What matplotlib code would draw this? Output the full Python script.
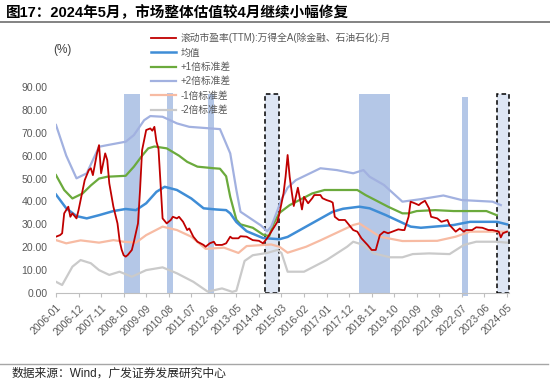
import matplotlib
matplotlib.use('Agg')
from matplotlib import pyplot as plt
from matplotlib.lines import Line2D

plt.rcParams['font.family'] = ['Liberation Sans', 'Noto Sans CJK SC']
plt.rcParams['axes.unicode_minus'] = False

# ---- data ----
tick_labels = ['2006-01', '2006-12', '2007-11', '2008-10', '2009-09', '2010-08', '2011-07',
               '2012-06', '2013-05', '2014-04', '2015-03', '2016-02', '2017-01', '2017-12',
               '2018-11', '2019-10', '2020-09', '2021-08', '2022-07', '2023-06', '2024-05']

pe_dates = ['2006-01', '2006-03', '2006-04', '2006-05', '2006-07', '2006-08', '2006-09', '2006-11',
            '2006-12', '2007-02', '2007-03', '2007-05', '2007-06', '2007-07', '2007-09', '2007-10',
            '2007-11', '2007-12', '2008-01', '2008-02', '2008-03', '2008-05', '2008-07', '2008-08',
            '2008-09', '2008-10', '2008-11', '2008-12', '2009-02', '2009-03', '2009-05', '2009-06',
            '2009-07', '2009-09', '2009-11', '2009-12', '2010-01', '2010-02', '2010-03', '2010-04',
            '2010-05', '2010-07', '2010-09', '2010-10', '2010-12', '2011-01', '2011-03', '2011-05',
            '2011-06', '2011-08', '2011-10', '2012-01', '2012-02', '2012-04', '2012-06', '2012-07',
            '2012-10', '2012-12', '2013-02', '2013-03', '2013-06', '2013-07', '2013-10', '2014-01',
            '2014-04', '2014-06', '2014-08', '2014-10', '2015-01', '2015-02', '2015-04', '2015-05',
            '2015-06', '2015-07', '2015-08', '2015-09', '2015-10', '2015-11', '2016-01', '2016-02',
            '2016-04', '2016-06', '2016-07', '2016-10', '2016-11', '2017-01', '2017-03', '2017-04',
            '2017-05', '2017-07', '2017-10', '2017-12', '2018-02', '2018-04', '2018-06', '2018-09',
            '2018-11', '2019-01', '2019-03', '2019-05', '2019-07', '2019-09', '2019-12', '2020-02',
            '2020-03', '2020-05', '2020-06', '2020-08', '2020-10', '2020-11', '2021-01', '2021-03',
            '2021-04', '2021-07', '2021-09', '2021-12', '2022-01', '2022-04', '2022-06', '2022-08',
            '2022-09', '2022-12', '2023-02', '2023-05', '2023-08', '2023-10', '2024-01', '2024-02',
            '2024-03', '2024-05']
pe_vals = [24.6, 25.3, 26.1, 34.8, 37.7, 33.3, 34.8, 32.6,
           36.2, 45.0, 49.3, 53.7, 54.5, 51.5, 61.0, 64.6,
           52.3, 56.6, 61.0, 58.1, 47.9, 37.7, 30.4, 23.1,
           19.0, 16.5, 15.9, 16.6, 18.8, 22.4, 30.4, 45.0,
           62.4, 71.2, 71.9, 70.9, 72.6, 66.1, 63.0, 48.0,
           32.6, 30.4, 31.9, 33.3, 32.6, 33.3, 31.1, 27.5,
           28.2, 24.6, 22.4, 21.0, 20.2, 21.7, 22.4, 21.0,
           21.0, 21.7, 24.6, 23.9, 23.9, 24.8, 24.6, 23.1,
           22.8, 21.7, 23.9, 26.8, 31.1, 34.8, 43.5, 50.8,
           60.3, 50.8, 44.2, 38.0, 42.0, 46.0, 36.5, 42.0,
           39.2, 41.4, 42.8, 42.8, 41.4, 40.6, 40.0, 39.5,
           33.3, 31.9, 31.9, 29.7, 27.5, 26.8, 23.9, 21.0,
           18.8, 18.8, 25.3, 26.8, 26.1, 26.8, 27.8, 27.5,
           27.5, 33.3, 39.9, 39.2, 38.4, 39.2, 40.3, 37.0,
           33.3, 32.6, 31.1, 31.9, 29.7, 26.8, 28.2, 26.8,
           27.5, 27.5, 28.7, 28.5, 27.5, 27.5, 26.8, 24.3,
           26.1, 26.8]

mean_dates = ['2006-01', '2006-06', '2006-11', '2007-04', '2007-10', '2008-05', '2008-11', '2009-04',
              '2009-09', '2010-02', '2010-06', '2010-12', '2011-07', '2012-01', '2012-07', '2012-12',
              '2013-02', '2013-05', '2013-10', '2014-06', '2015-02', '2015-06', '2015-11', '2016-06',
              '2017-04', '2017-09', '2018-05', '2018-10', '2019-06', '2020-06', '2020-11', '2022-03',
              '2022-11', '2023-12', '2024-05']
mean_vals = [43.0, 37.0, 33.6, 32.6, 34.0, 35.8, 36.7, 36.2,
             39.2, 44.2, 46.4, 45.0, 41.3, 37.0, 36.5, 36.2,
             34.8, 31.0, 27.0, 24.0, 23.5, 24.5, 27.0, 30.5,
             35.5, 36.8, 37.7, 37.0, 34.0, 29.0, 28.5, 29.7,
             31.1, 31.1, 30.0]

p1_dates = ['2006-01', '2006-05', '2006-09', '2007-02', '2007-06', '2007-10', '2008-02', '2008-11',
            '2009-03', '2009-07', '2009-10', '2010-01', '2010-07', '2011-01', '2011-05', '2011-10',
            '2012-06', '2012-09', '2012-12', '2013-02', '2013-05', '2013-07', '2014-01', '2014-06',
            '2014-09', '2014-11', '2015-02', '2015-07', '2016-06', '2016-12', '2018-04', '2018-08',
            '2019-07', '2020-02', '2020-05', '2020-09', '2021-06', '2022-03', '2023-07', '2023-12']
p1_vals = [51.5, 45.0, 41.3, 43.5, 47.0, 50.0, 50.8, 51.2,
           55.2, 60.0, 63.2, 64.0, 63.2, 60.0, 57.3, 55.2,
           54.5, 54.3, 51.0, 42.0, 32.0, 30.0, 28.5, 25.5,
           24.8, 30.0, 35.0, 38.4, 43.5, 45.0, 45.0, 42.8,
           37.7, 34.8, 34.8, 35.8, 36.2, 35.8, 35.8, 34.0]

p2_dates = ['2006-01', '2006-06', '2006-11', '2007-04', '2007-10', '2008-02', '2008-11', '2009-03',
            '2009-08', '2009-11', '2010-05', '2010-12', '2011-06', '2012-09', '2013-02', '2013-05',
            '2013-07', '2013-12', '2014-05', '2014-08', '2014-10', '2015-01', '2015-03', '2015-06',
            '2015-10', '2016-10', '2017-06', '2018-02', '2018-07', '2018-10', '2019-05', '2020-02',
            '2020-11', '2021-10', '2022-07', '2023-10', '2024-02']
p2_vals = [73.4, 60.0, 50.1, 52.3, 63.9, 64.6, 66.1, 69.0,
           75.5, 77.3, 77.0, 74.1, 72.6, 71.6, 61.0, 45.0,
           35.5, 32.5, 29.5, 27.0, 29.0, 36.0, 41.0, 46.0,
           49.3, 54.5, 53.7, 52.3, 53.7, 50.8, 47.2, 39.9,
           41.0, 42.6, 40.6, 39.9, 38.4]

m1_dates = ['2006-01', '2006-06', '2007-01', '2007-10', '2008-05', '2008-10', '2009-04', '2009-09',
            '2010-05', '2010-12', '2011-07', '2012-02', '2012-11', '2013-06', '2013-10', '2014-10',
            '2015-02', '2015-06', '2016-03', '2016-10', '2018-02', '2018-05', '2018-10', '2019-03',
            '2020-02', '2021-07', '2022-04', '2022-11', '2024-05']
m1_vals = [23.1, 21.7, 23.0, 22.0, 23.1, 22.4, 22.0, 25.3,
           29.0, 27.5, 24.6, 19.3, 19.8, 17.5, 20.5, 21.2,
           20.2, 17.6, 20.2, 23.0, 29.7, 30.4, 27.5, 24.6,
           22.7, 22.8, 24.6, 26.8, 26.8]

m2_dates = ['2006-01', '2006-04', '2006-09', '2007-01', '2007-06', '2007-10', '2008-03', '2008-08',
            '2009-02', '2009-09', '2010-05', '2010-12', '2011-08', '2012-03', '2012-10', '2013-03',
            '2013-05', '2013-09', '2014-01', '2014-08', '2015-01', '2015-03', '2015-06', '2016-02',
            '2017-01', '2017-11', '2018-02', '2018-07', '2018-12', '2019-08', '2020-02', '2020-07',
            '2021-03', '2022-01', '2022-08', '2023-02', '2023-12', '2024-05']
m2_vals = [4.9, 3.5, 11.5, 14.4, 13.0, 10.0, 7.9, 9.3,
           7.1, 10.0, 11.2, 8.6, 4.9, 0.6, 2.0, 0.5,
           1.0, 14.0, 16.5, 17.5, 18.8, 17.5, 9.3, 9.3,
           14.4, 20.2, 22.4, 21.0, 17.3, 15.6, 15.6, 17.0,
           17.3, 17.0, 21.0, 22.4, 22.4, 22.0]

shade_start = ['2008-10', '2010-07', '2012-03', '2018-05', '2022-07']
shade_end = ['2009-06', '2010-10', '2012-06', '2019-08', '2022-10']
shade_low = [0, 0, 0, 0, -1.5]
shade_top = [87, 87.5, 87, 87, 85.7]

box_start = ['2014-07', '2023-12']
box_end = ['2015-02', '2024-06']
box_top = [86.8, 86.8]

series_names = ['滚动市盈率(TTM):万得全A(除金融、石油石化):月', '均值', '+1倍标准差',
                '+2倍标准差', '-1倍标准差', '-2倍标准差']


def mi(d):
    # months since 2006-01
    y, m = d.split('-')
    return (int(y) - 2006) * 12 + int(m) - 1


def mlist(ds):
    return [mi(d) for d in ds]


fig = plt.figure(figsize=(5.5, 3.89), dpi=100)
ax = fig.add_axes([56 / 550, 96 / 389, 453 / 550, 206 / 389])

# shaded periods
for s, e, lo, hi in zip(shade_start, shade_end, shade_low, shade_top):
    ax.bar(mi(s), hi - lo, width=mi(e) - mi(s), bottom=lo, align='edge',
           color='#B4C7E7', zorder=1, clip_on=False)
for s, e, hi in zip(box_start, box_end, box_top):
    ax.bar(mi(s), hi, width=mi(e) - mi(s), align='edge', color='#DEE6F4',
           edgecolor='black', linestyle=(0, (3, 2)), linewidth=1.1, zorder=1, clip_on=False)

lines = []
lines += ax.plot(mlist(pe_dates), pe_vals, color='#C00000', lw=1.3, zorder=5)
lines += ax.plot(mlist(mean_dates), mean_vals, color='#3F8DD6', lw=1.8, zorder=4)
lines += ax.plot(mlist(p1_dates), p1_vals, color='#6BAA3C', lw=1.6, zorder=3)
lines += ax.plot(mlist(p2_dates), p2_vals, color='#A2B1E0', lw=1.6, zorder=3)
lines += ax.plot(mlist(m1_dates), m1_vals, color='#F7BBA3', lw=1.6, zorder=3)
lines += ax.plot(mlist(m2_dates), m2_vals, color='#CACACA', lw=1.6, zorder=3)

ax.set_xlim(0, 221)
ax.set_ylim(0, 90)
ax.set_yticks(range(0, 91, 10))
ax.set_yticklabels(['%.2f' % v for v in range(0, 91, 10)])
ax.set_xticks(mlist(tick_labels))
ax.set_xticklabels(tick_labels, rotation=45, ha='right', rotation_mode='anchor')
ax.tick_params(axis='y', length=0, pad=6, labelsize=7.5, labelcolor='#595959')
ax.tick_params(axis='x', length=3, color='#BFBFBF', pad=4, labelsize=7.5, labelcolor='#595959')
for sp in ['top', 'right', 'left']:
    ax.spines[sp].set_visible(False)
ax.spines['bottom'].set_color('#BFBFBF')
ax.spines['bottom'].set_zorder(6)

fig.legend(lines, series_names, loc='upper left', bbox_to_anchor=(146 / 550, 1 - 28 / 389),
           frameon=False, fontsize=7, handlelength=2.6, handletextpad=0.5,
           labelspacing=0.45, borderpad=0, labelcolor='#595959')

fig.text(62 / 550, 1 - 50 / 389, '(%)', ha='center', va='center', fontsize=8.5, color='#404040')

# title, rules and source
fig.text(6 / 550, 1 - 13 / 389, '图17：2024年5月，市场整体估值较4月继续小幅修复',
         fontsize=10.5, fontweight='bold', va='center', color='black')
fig.add_artist(Line2D([0, 1], [1 - 22 / 389] * 2, color='#6E6E6E', lw=1.2))
fig.add_artist(Line2D([0, 548 / 550], [1 - 364 / 389] * 2, color='#A6A6A6', lw=1.0))
fig.text(12 / 550, 1 - 374 / 389, '数据来源：Wind，广发证券发展研究中心', fontsize=8.5,
         va='center', color='#262626')

fig.savefig('out.png', dpi=100)
